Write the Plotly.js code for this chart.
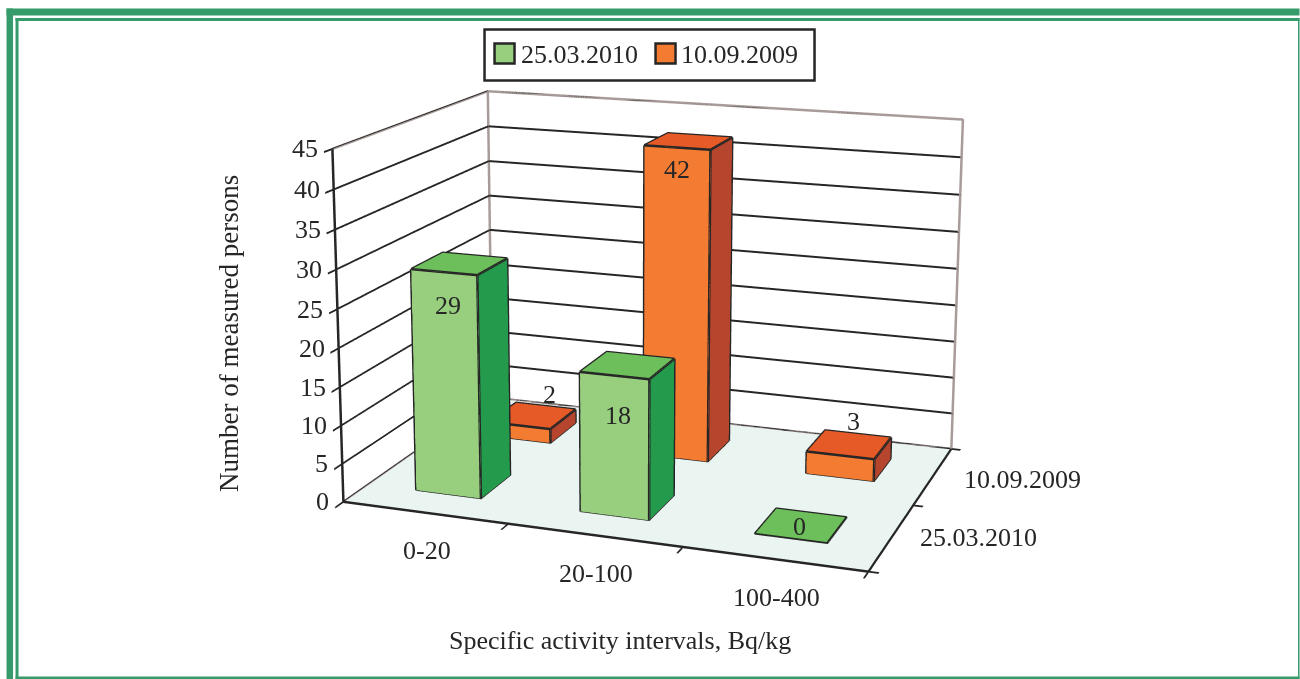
<!DOCTYPE html>
<html><head><meta charset="utf-8">
<script src="https://cdn.plot.ly/plotly-3.0.1.min.js"></script>
<style>html,body{margin:0;padding:0;background:#fff;overflow:hidden;width:1300px;height:679px}#c{position:absolute}</style></head>
<body><div id="c"></div>
<script>
const categories=['0-20','20-100','100-400'];
const seriesNames=['25.03.2010','10.09.2009'];
const valuesFront=[29,18,0];
const valuesBack=[2,42,3];
const valueTicks=[0,5,10,15,20,25,30,35,40,45];
const colors={front:{side:'#98CF7F',top:'#6CBF5A',end:'#249B4C'},back:{side:'#F47B32',top:'#E55A26',end:'#B5452D'}};
const W=0.2,D=0.2,LW=5;
// Long-lens camera: the plot is larger than the window so that the view centre and focal length fit the reference.
const CAM={eye:[1.4874,-4.2649,1.2047],center:[-0.0710,0.0009,0.1750],aspect:[1.1526,0.7954,0.7697]};
const PPX=628.9697,PPY=226.0742,H=1770.636;
const WW=Math.ceil(2*Math.max(PPX,1300-PPX))+4;
const LEFT=PPX-WW/2,TOP=PPY-H/2;
const el=document.getElementById('c');el.style.left=LEFT+'px';el.style.top=TOP+'px';
const px=x=>(x-LEFT)/WW, py=y=>1-(y-TOP)/H;

const traces=[];
const serif='"Liberation Serif","Times New Roman",serif';
const ink='#262626';
function bar(cx,cy,h,c){
  const x0=cx-W,x1=cx+W,y0=cy-D,y1=cy+D,z0=0,z1=h;
  const X=[x0,x1,x1,x0,x0,x1,x1,x0],Y=[y0,y0,y1,y1,y0,y0,y1,y1],Z=[z0,z0,z0,z0,z1,z1,z1,z1];
  const I=[0,0,4,4,0,0,1,1],J=[1,2,5,6,1,5,2,6],K=[2,3,6,7,5,4,6,5];
  const fc=[c.side,c.side,c.top,c.top,c.side,c.side,c.end,c.end];
  traces.push({type:'mesh3d',x:X,y:Y,z:Z,i:I,j:J,k:K,facecolor:fc,flatshading:true,
    lighting:{ambient:1,diffuse:0,specular:0,roughness:1,fresnel:0},hoverinfo:'skip',showlegend:false});
  const ex=[x0,x1,x1,x0,x0,null,x0,x1,x1,x0,x0,null,x1,x1,null,x1,x1,null,x0,x0];
  const ey=[y0,y0,y1,y1,y0,null,y0,y0,y1,y1,y0,null,y0,y0,null,y1,y1,null,y0,y0];
  const ez=[z1,z1,z1,z1,z1,null,z0,z0,z0,z0,z0,null,z0,z1,null,z0,z1,null,z0,z1];
  traces.push({type:'scatter3d',mode:'lines',x:ex,y:ey,z:ez,line:{color:ink,width:LW},hoverinfo:'skip',showlegend:false});
}
valuesFront.forEach((v,i)=>bar(i+0.5,0.5,v,colors.front));
valuesBack.forEach((v,i)=>bar(i+0.5,1.5,v,colors.back));
const nX=categories.length,nY=seriesNames.length,zMax=valueTicks[valueTicks.length-1];
traces.push({type:'scatter3d',mode:'lines',x:[0,0,nX,nX,null,0,0,null,0,nX],y:[0,nY,nY,nY,null,nY,nY,null,nY,nY],z:[zMax,zMax,zMax,0,null,zMax,0,null,0,0],line:{color:'#A89C9A',width:LW},hoverinfo:'skip',showlegend:false});
traces.push({type:'scatter3d',mode:'lines',x:[0,0],y:[0,nY],z:[0,0],line:{color:'#A89C9A',width:LW},hoverinfo:'skip',showlegend:false});
const ann=[];
const tf={family:serif,size:26,color:ink};
valueTicks.forEach(z=>ann.push({x:0,y:0,z:z,text:String(z),showarrow:false,xanchor:'right',xshift:-12,font:tf}));
categories.forEach((t,i)=>ann.push({x:i+.5,y:0,z:0,text:t,showarrow:false,xshift:2,yshift:-38,font:tf}));
const seriesShift=[[26,0],[29,-3]];
seriesNames.forEach((t,j)=>ann.push({x:nX,y:j+.5,z:0,text:t,showarrow:false,xanchor:'left',xshift:seriesShift[j][0],yshift:seriesShift[j][1],font:tf}));
const frontShift=[[4,-33],[4,-40],[-2,-1]], backShift=[[30,31],[0,-22],[13,34]];
valuesFront.forEach((v,i)=>ann.push({x:i+.5,y:v?.3:.5,z:v,text:String(v),showarrow:false,xshift:frontShift[i][0],yshift:frontShift[i][1],font:tf}));
valuesBack.forEach((v,i)=>ann.push({x:i+.5,y:1.3,z:v,text:String(v),showarrow:false,xshift:backShift[i][0],yshift:backShift[i][1],font:tf}));
const axBase={title:{text:''},showticklabels:false,showgrid:false,showbackground:false,zeroline:false,showspikes:false,showline:true,linecolor:ink,linewidth:5,ticks:'outside',ticklen:8,tickcolor:ink,tickwidth:4};
const green='#359B6B';
const rect=(a,b,c,d,fill,line)=>({type:'rect',xref:'paper',yref:'paper',x0:px(a),x1:px(b),y0:py(c),y1:py(d),fillcolor:fill,line:line?{color:line,width:2.5}:{width:0}});
const lab=(x,y,t,o)=>Object.assign({xref:'paper',yref:'paper',x:px(x),y:py(y),text:t,showarrow:false,xanchor:'center',yanchor:'middle',font:{family:serif,size:26,color:ink}},o||{});
const layout={width:WW,height:H,margin:{l:0,r:0,t:0,b:0},paper_bgcolor:'#fff',showlegend:false,
 shapes:[
  rect(7,1300,8,15,green),rect(7,13.5,8,679,green),
  rect(16,1300,17.5,20.5,green),rect(16,19,17.5,679,green),
  rect(16,1300,676,678.5,green),rect(1298.5,1300,17.5,679,green),
  rect(485,815,29,80,'#fff',ink),
  rect(495,515,43,63,colors.front.side,ink),rect(656,676,43,63,colors.back.side,ink)
 ],
 annotations:[
  lab(620,640,'Specific activity intervals, Bq/kg'),
  lab(230,333,'Number of measured persons',{textangle:-90,font:{family:serif,size:27,color:ink}}),
  lab(519,54,seriesNames[0],{xanchor:'left'}),lab(679,54,seriesNames[1],{xanchor:'left'})
 ],
 scene:{domain:{x:[0,1],y:[0,1]},aspectmode:'manual',aspectratio:{x:CAM.aspect[0],y:CAM.aspect[1],z:CAM.aspect[2]},
  camera:{eye:{x:CAM.eye[0],y:CAM.eye[1],z:CAM.eye[2]},center:{x:CAM.center[0],y:CAM.center[1],z:CAM.center[2]},up:{x:0,y:0,z:1}},
  annotations:ann,
  xaxis:{...axBase,range:[0,nX],tickvals:[0,1,2,3],ticklen:8},
  yaxis:{...axBase,range:[0,nY],tickvals:[0,1,2],ticklen:14},
  zaxis:{...axBase,range:[0,zMax],tickvals:valueTicks,showgrid:true,gridcolor:ink,gridwidth:4,showbackground:true,backgroundcolor:'#EAF4F1'}
 }};
Plotly.newPlot('c',traces,layout,{displayModeBar:false});
</script></body></html>
